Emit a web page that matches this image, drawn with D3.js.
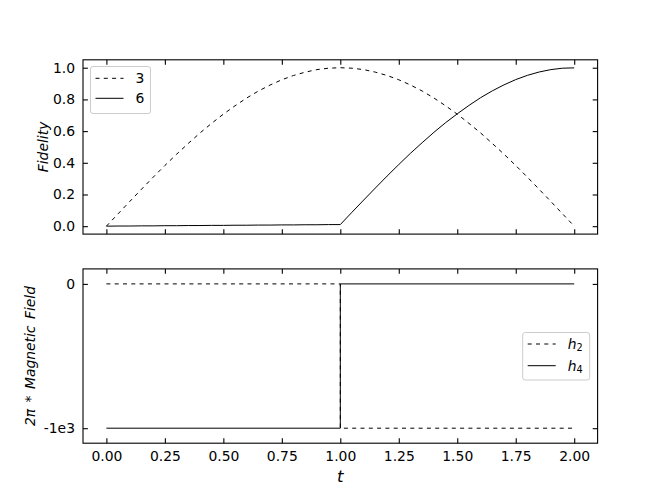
<!DOCTYPE html>
<html>
<head>
<meta charset="utf-8">
<script src="https://cdn.jsdelivr.net/npm/d3@7"></script>
<style>
  html, body { margin: 0; padding: 0; background: #fff; }
  svg { display: block; font-family: "DejaVu Sans", sans-serif; }
</style>
</head>
<body>
<svg id="chart" width="664" height="498"></svg>
<script>
// ---------------- data ----------------
const tValues = [0.00,0.05,0.10,0.15,0.20,0.25,0.30,0.35,0.40,0.45,0.50,0.55,0.60,0.65,0.70,0.75,0.80,0.85,0.90,0.95,
                 1.00,1.05,1.10,1.15,1.20,1.25,1.30,1.35,1.40,1.45,1.50,1.55,1.60,1.65,1.70,1.75,1.80,1.85,1.90,1.95,2.00];
const fidelity3 = [0.000,0.078,0.156,0.233,0.309,0.383,0.454,0.522,0.588,0.649,0.707,0.760,0.809,0.853,0.891,0.924,0.951,0.972,0.988,0.997,
                   1.000,0.997,0.988,0.972,0.951,0.924,0.891,0.853,0.809,0.760,0.707,0.649,0.588,0.522,0.454,0.383,0.309,0.233,0.156,0.078,0.000];
const fidelity6 = [0.000,0.001,0.001,0.002,0.002,0.003,0.003,0.004,0.004,0.005,0.005,0.006,0.006,0.007,0.007,0.008,0.008,0.009,0.009,0.010,
                   0.010,0.088,0.165,0.241,0.316,0.389,0.460,0.527,0.592,0.653,0.709,0.762,0.811,0.854,0.892,0.925,0.952,0.973,0.988,0.997,0.999];
const fieldT = [0, 1, 1, 2];
const h2 = [0, 0, -1000, -1000];
const h4 = [-1000, -1000, 0, 0];

const xTicks = [0, 0.25, 0.5, 0.75, 1.0, 1.25, 1.5, 1.75, 2.0];
const xTickLabels = ["0.00","0.25","0.50","0.75","1.00","1.25","1.50","1.75","2.00"];
const fidTicks = [0, 0.2, 0.4, 0.6, 0.8, 1.0];
const fidTickLabels = ["0.0","0.2","0.4","0.6","0.8","1.0"];
const fieldTicks = [0, -1000];
const fieldTickLabels = ["0", "-1e3"];

// ---------------- layout ----------------
const svg = d3.select("#chart");
const FS = 13.9;
const left = 83, right = 597.6;
const top1 = 59.8, bot1 = 234.1;
const top2 = 268.9, bot2 = 443.2;
const TICK = 4.9;

const x = d3.scaleLinear().domain([-0.1, 2.1]).range([left, right]);
const y1 = d3.scaleLinear().domain([-0.05, 1.05]).range([bot1, top1]);
const y2 = d3.scaleLinear().domain([-1104, 104]).range([bot2, top2]);

function styleAxis(g) {
  g.select(".domain").remove();
  g.selectAll(".tick line").attr("stroke", "#000").attr("stroke-width", 1.1);
  g.selectAll(".tick text").attr("fill", "#000").attr("font-size", FS)
    .attr("font-family", "DejaVu Sans, sans-serif");
}

function panel(yScale, yTop, yBot, yTicks, yLabels, showX) {
  // bottom axis
  const gb = svg.append("g").attr("transform", `translate(0,${yBot})`)
    .call(d3.axisBottom(x).tickValues(xTicks)
      .tickFormat((d, i) => showX ? xTickLabels[i] : "")
      .tickSizeInner(-TICK).tickSizeOuter(0).tickPadding(7.5));
  styleAxis(gb);
  // top axis
  const gt = svg.append("g").attr("transform", `translate(0,${yTop})`)
    .call(d3.axisTop(x).tickValues(xTicks).tickFormat("")
      .tickSizeInner(-TICK).tickSizeOuter(0));
  styleAxis(gt);
  // left axis
  const gl = svg.append("g").attr("transform", `translate(${left},0)`)
    .call(d3.axisLeft(yScale).tickValues(yTicks)
      .tickFormat((d, i) => yLabels[i])
      .tickSizeInner(-TICK).tickSizeOuter(0).tickPadding(8));
  styleAxis(gl);
  // right axis
  const gr = svg.append("g").attr("transform", `translate(${right},0)`)
    .call(d3.axisRight(yScale).tickValues(yTicks).tickFormat("")
      .tickSizeInner(-TICK).tickSizeOuter(0));
  styleAxis(gr);
  // frame
  svg.append("rect").attr("x", left).attr("y", yTop)
    .attr("width", right - left).attr("height", yBot - yTop)
    .attr("fill", "none").attr("stroke", "#000").attr("stroke-width", 1.1);
}

// ---------------- top panel ----------------
const line1 = d3.line().x(d => x(d[0])).y(d => y1(d[1]));
svg.append("path").datum(tValues.map((t, i) => [t, fidelity3[i]]))
  .attr("d", line1).attr("fill", "none").attr("stroke", "#000")
  .attr("stroke-width", 1).attr("stroke-dasharray", "4,4.3");
svg.append("path").datum(tValues.map((t, i) => [t, fidelity6[i]]))
  .attr("d", line1).attr("fill", "none").attr("stroke", "#000")
  .attr("stroke-width", 1);
panel(y1, top1, bot1, fidTicks, fidTickLabels, false);

// ---------------- bottom panel ----------------
const line2 = d3.line().x(d => x(d[0])).y(d => y2(d[1]));
svg.append("path").datum(fieldT.map((t, i) => [t, h2[i]]))
  .attr("d", line2).attr("fill", "none").attr("stroke", "#000")
  .attr("stroke-width", 1).attr("stroke-dasharray", "4,4.3");
svg.append("path").datum(fieldT.map((t, i) => [t, h4[i]]))
  .attr("d", line2).attr("fill", "none").attr("stroke", "#000")
  .attr("stroke-width", 1);
panel(y2, top2, bot2, fieldTicks, fieldTickLabels, true);

// ---------------- axis labels ----------------
svg.append("text").attr("x", (left + right) / 2).attr("y", 482)
  .attr("text-anchor", "middle").attr("font-size", 16.5)
  .attr("font-style", "italic").text("t");
svg.append("text").attr("transform", `translate(47.5,${(top1 + bot1) / 2}) rotate(-90)`)
  .attr("text-anchor", "middle").attr("font-size", FS)
  .attr("font-style", "italic").text("Fidelity");
svg.append("text").attr("transform", `translate(35,${(top2 + bot2) / 2}) rotate(-90)`)
  .attr("text-anchor", "middle").attr("font-size", FS)
  .attr("font-style", "italic").attr("word-spacing", 2).text("2π * Magnetic Field");

// ---------------- legends ----------------
function legend(bx, by, bw, bh, items) {
  const g = svg.append("g");
  g.append("rect").attr("x", bx).attr("y", by).attr("width", bw).attr("height", bh)
    .attr("rx", 2.5).attr("fill", "#fff").attr("fill-opacity", 0.8)
    .attr("stroke", "#cccccc").attr("stroke-width", 1);
  items.forEach(it => {
    g.append("line").attr("x1", bx + 5).attr("x2", bx + 33)
      .attr("y1", it.y).attr("y2", it.y).attr("stroke", "#000").attr("stroke-width", 1)
      .attr("stroke-dasharray", it.dash ? "4,4.3" : null);
    const t = g.append("text").attr("x", bx + 45).attr("y", it.y).attr("dy", "0.35em")
      .attr("font-size", FS).attr("fill", "#000");
    if (it.sub) {
      t.append("tspan").attr("font-style", "italic").text(it.label);
      t.append("tspan").attr("font-size", FS * 0.7).attr("dy", "0.25em").text(it.sub);
    } else {
      t.text(it.label);
    }
  });
}
legend(90.5, 66.5, 60, 47, [{y: 78.3, dash: true, label: "3"}, {y: 98.3, dash: false, label: "6"}]);
legend(522.7, 332.5, 67, 47.5, [{y: 344, dash: true, label: "h", sub: "2"}, {y: 365.7, dash: false, label: "h", sub: "4"}]);
</script>
</body>
</html>
